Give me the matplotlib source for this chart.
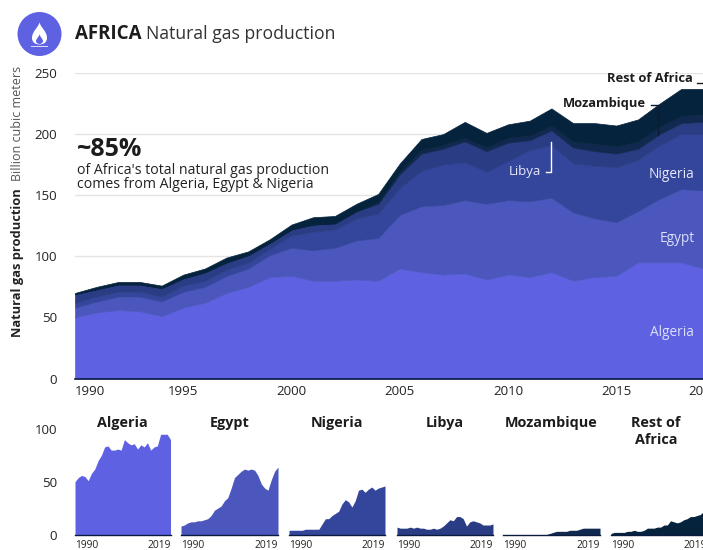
import matplotlib
matplotlib.use('Agg')
import matplotlib.pyplot as plt
import numpy as np
from matplotlib.path import Path
from matplotlib.patches import Circle, PathPatch, Rectangle

plt.rcParams['font.family'] = ['Open Sans', 'DejaVu Sans']

W, H = 703, 550

# data, billion cubic meters
years = list(range(1990, 2020))
algeria = [50, 54, 56, 55, 51, 58, 62, 70, 75, 83, 84, 80, 80, 81, 80,
           90, 87, 85, 86, 81, 85, 83, 87, 80, 83, 84, 95, 95, 95, 90]
egypt = [8, 9, 11, 12, 12, 13, 13, 14, 15, 18, 23, 25, 27, 32, 35,
         44, 54, 57, 60, 62, 61, 62, 61, 56, 48, 44, 42, 52, 60, 64]
nigeria = [4, 4, 4, 4, 4, 5, 5, 5, 5, 5, 10, 15, 15, 18, 20,
           22, 29, 33, 31, 26, 32, 42, 43, 40, 43, 45, 42, 44, 45, 46]
libya = [7, 6, 6, 6, 7, 6, 7, 6, 6, 5, 5, 6, 5, 6, 8,
         11, 14, 13, 17, 17, 15, 8, 12, 13, 12, 11, 9, 9, 9, 10]
mozambique = [0, 0, 0, 0, 0, 0, 0, 0, 0, 0, 0, 0, 0, 0, 1,
              2, 3, 3, 3, 3, 4, 4, 4, 5, 6, 6, 6, 6, 6, 6]
rest = [1, 2, 2, 2, 2, 3, 3, 4, 3, 3, 4, 6, 6, 6, 7,
        7, 9, 9, 13, 12, 11, 12, 14, 15, 17, 17, 18, 19, 22, 21]

names = ['Algeria', 'Egypt', 'Nigeria', 'Libya', 'Mozambique', 'Rest of\nAfrica']
series = [algeria, egypt, nigeria, libya, mozambique, rest]
colors = ['#5E62E2', '#4C57BE', '#34469B', '#2A3C84', '#12294F', '#06233D']
main_ticks = [1990, 1995, 2000, 2005, 2010, 2015, 2019]
main_yticks = [0, 50, 100, 150, 200, 250]
small_yticks = [0, 50, 100]

ink = '#222222'
navy = '#0B1B3F'


def px_axes(x0, y0, x1, y1):
    # y0 is the upper edge, in image pixels
    return fig.add_axes([x0 / W, 1 - y1 / H, (x1 - x0) / W, (y1 - y0) / H])


fig = plt.figure(figsize=(W / 100, H / 100), dpi=100, facecolor='white')

# main stacked area, edge in the fill colour so no pale seams show between layers
ax = px_axes(75, 73, 703, 378.5)
layers = ax.stackplot(years, series, colors=colors, linewidth=0.5, zorder=2)
for layer, col in zip(layers, colors):
    layer.set_edgecolor(col)
ax.set_xlim(1990, 1990 + 628 / 21.8)
ax.set_ylim(0, 250)
ax.set_yticks(main_yticks)
ax.set_xticks(main_ticks)
ax.grid(axis='y', color='#E4E4E4', lw=1, zorder=0)
ax.tick_params(length=0, labelsize=9.5, labelcolor=ink, pad=5)
ax.tick_params(axis='y', pad=13)
for s in ['top', 'left', 'right']:
    ax.spines[s].set_visible(False)
ax.spines['bottom'].set_color(navy)
ax.spines['bottom'].set_linewidth(1.2)
ax.spines['bottom'].set_zorder(5)
ax.get_xticklabels()[0].set_ha('left')
for lab in ax.get_xticklabels():
    lab.set_clip_on(False)

# small multiples
panel_x = [(75, 170.5), (181, 278), (289, 385), (397, 493), (503, 600), (611, 707)]
for i, (name, vals, col) in enumerate(zip(names, series, colors)):
    x0, x1 = panel_x[i]
    a = px_axes(x0, 429, x1, 534.5)
    a.fill_between(years, 0, vals, color=col, lw=0)
    a.set_xlim(1990, 2019)
    a.set_ylim(0, 100)
    a.patch.set_alpha(0)
    a.set_xticks([1990, 2019])
    a.set_xticklabels(['1990', '2019'], fontsize=7.4, color=ink)
    labs = a.get_xticklabels()
    labs[0].set_ha('left')
    labs[1].set_ha('right')
    a.tick_params(length=0, pad=4)
    for s in ['top', 'left', 'right']:
        a.spines[s].set_visible(False)
    a.spines['bottom'].set_color(navy)
    a.spines['bottom'].set_linewidth(1.0)
    if i == 0:
        a.set_yticks(small_yticks)
        a.tick_params(axis='y', labelsize=9.5, labelcolor=ink, pad=13)
    else:
        a.set_yticks([])

# overlay in pixel coordinates for text and the icon
ov = fig.add_axes([0, 0, 1, 1], zorder=10)
ov.set_xlim(0, W)
ov.set_ylim(H, 0)
ov.axis('off')

ov.text(75, 34, 'AFRICA', fontsize=13.5, fontweight='bold', color='#1c1c1c', va='center')
ov.text(146, 34, 'Natural gas production', fontsize=12.7, color='#333333', va='center')

ov.text(77, 149, '~85%', fontsize=18, fontweight='bold', color='#1c1c1c', va='center')
ov.text(77, 170, "of Africa's total natural gas production", fontsize=10.2, color=ink, va='center')
ov.text(77, 185, 'comes from Algeria, Egypt & Nigeria', fontsize=10.2, color=ink, va='center')

ov.text(18, 337, 'Natural gas production', fontsize=9.3, fontweight='bold', color=ink,
        rotation=90, ha='center', va='bottom')
ov.text(18, 181, 'Billion cubic meters', fontsize=9, color='#555555',
        rotation=90, ha='center', va='bottom')

# labels on the areas
ov.text(694, 332, 'Algeria', fontsize=9.8, color='#DDE0FA', ha='right', va='center')
ov.text(695, 239, 'Egypt', fontsize=9.8, color='#DDE0FA', ha='right', va='center')
ov.text(694, 175, 'Nigeria', fontsize=9.8, color='#E6E8FA', ha='right', va='center')
ov.text(541, 172, 'Libya', fontsize=9.5, color='#E6E8FA', ha='right', va='center')
ov.text(693, 79, 'Rest of Africa', fontsize=9.3, fontweight='bold', color='#1c1c1c', ha='right', va='center')
ov.text(646, 103, 'Mozambique', fontsize=9.3, fontweight='bold', color='#1c1c1c', ha='right', va='center')

# leader lines
ov.plot([546, 551, 551], [172, 172, 142], color='white', lw=1)
ov.plot([651, 658, 658], [105, 105, 135], color='#0a1a30', lw=1)
ov.plot([697, 703], [83, 83], color='#1c1c1c', lw=1)

# panel titles
for i, name in enumerate(names):
    x0, x1 = panel_x[i]
    ov.text((x0 + x1) / 2 - (3 if i == 5 else 0), 416, name, fontsize=10.4,
            fontweight='bold', color='#1c1c1c', ha='center', va='top', linespacing=1.25)

# gas flame icon
ov.add_patch(Circle((39.5, 34), 22, fc='#5E62E2', ec='none'))
flame = Path(
    [(39.5, 22), (40, 27), (47, 31), (47, 38), (47, 42), (44, 44.5), (39.5, 44.5),
     (35, 44.5), (32, 42), (32, 38), (32, 31), (39, 27), (39.5, 22), (39.5, 22)],
    [Path.MOVETO, Path.CURVE4, Path.CURVE4, Path.CURVE4, Path.CURVE4, Path.CURVE4, Path.CURVE4,
     Path.CURVE4, Path.CURVE4, Path.CURVE4, Path.CURVE4, Path.CURVE4, Path.CURVE4, Path.CLOSEPOLY])
ov.add_patch(PathPatch(flame, fc='white', ec='none'))
inner = Path(
    [(39.5, 34), (40, 37), (43, 39), (43, 41), (43, 43), (41, 44), (39.5, 44),
     (38, 44), (36, 43), (36, 41), (36, 39), (39, 37), (39.5, 34), (39.5, 34)],
    flame.codes)
ov.add_patch(PathPatch(inner, fc='#5E62E2', ec='none'))
ov.add_patch(Rectangle((31, 46), 17, 1, fc='#D8DAF8', ec='none'))

fig.savefig('out.png', dpi=100)
